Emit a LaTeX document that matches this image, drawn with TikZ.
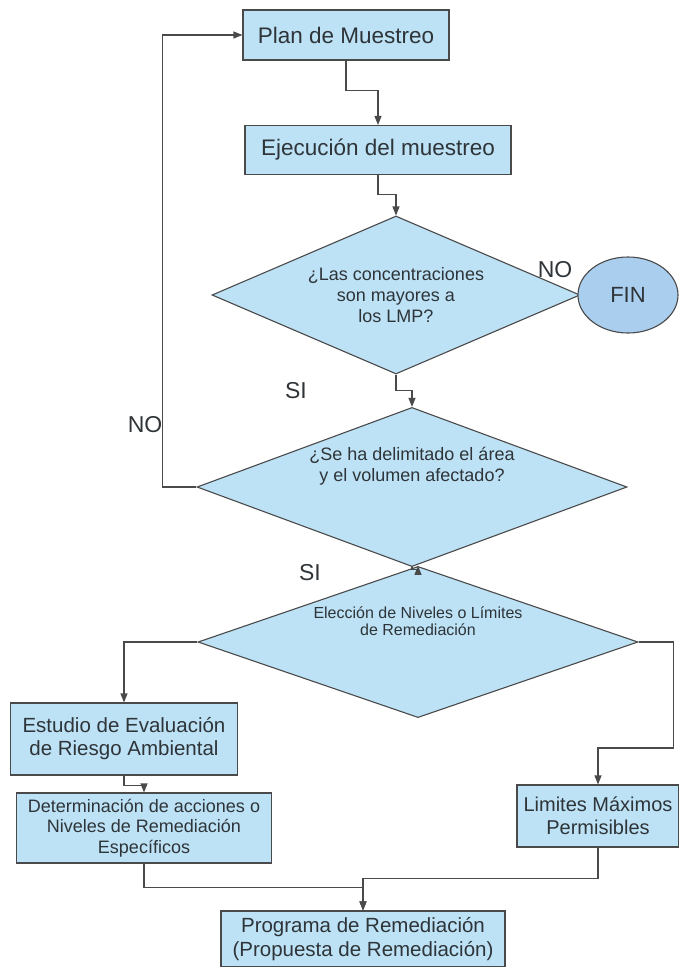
\documentclass[tikz,border=0pt]{standalone}
\usepackage{fontspec}
\setmainfont{Liberation Sans}
\usetikzlibrary{arrows.meta, shapes.geometric}
\definecolor{boxblue}{HTML}{BDE2F6}
\definecolor{finblue}{HTML}{AACFEE}
\definecolor{linegray}{HTML}{4A4A4A}
\definecolor{textgray}{HTML}{2E3438}
\tikzset{
  block/.style = {rectangle, draw=linegray, fill=boxblue, line width=1.1pt, align=center, inner sep=0pt, text=textgray},
  decision/.style = {diamond, aspect=2.6, draw=linegray, fill=boxblue, line width=1.1pt, align=center, inner sep=0pt, text=textgray},
  endnode/.style = {ellipse, draw=linegray, fill=finblue, line width=1.1pt, inner sep=0pt, text=textgray},
  answer/.style = {text=textgray, font=\fontsize{23}{26}\selectfont},
  arrow/.style = {draw=linegray, line width=1.1pt, -{Triangle[length=9pt, width=7pt]}},
}

\begin{document}
\begin{tikzpicture}[x=1pt, y=-1pt]
  \useasboundingbox (0,0) rectangle (679,967);

  \node (plan) [block, minimum width=206pt, minimum height=50pt, font=\fontsize{22.5}{26}\selectfont] at (346,35) {Plan de Muestreo};
  \node (ejec) [block, minimum width=266pt, minimum height=49pt, font=\fontsize{22.5}{26}\selectfont] at (378,150) {Ejecución del muestreo};
  \node (dec1) [decision, minimum width=368pt, minimum height=158pt, font=\fontsize{18}{21}\selectfont] at (396,295) {¿Las concentraciones\\son  mayores a\\los LMP?};
  \node (fin) [endnode, minimum width=100pt, minimum height=76pt, font=\fontsize{22}{24}\selectfont] at (628,295) {FIN};
  \node (dec2) [decision, minimum width=430pt, minimum height=145pt, text depth=46pt, font=\fontsize{18}{21}\selectfont] at (412,487) {¿Se ha delimitado el área\\y el volumen afectado?};
  \node (dec3) [decision, minimum width=440pt, minimum height=139pt, text depth=42pt, font=\fontsize{16}{17}\selectfont] at (418,642) {Elección de Niveles o Límites\\de Remediación};
  \node (estudio) [block, minimum width=227pt, minimum height=72pt, font=\fontsize{20.5}{23}\selectfont] at (124,739) {Estudio de Evaluación\\de Riesgo Ambiental};
  \node (determ) [block, minimum width=255pt, minimum height=70pt, font=\fontsize{18}{20.5}\selectfont] at (144,828) {Determinación de acciones o\\Niveles de Remediación\\Específicos};
  \node (limites) [block, minimum width=162pt, minimum height=62pt, font=\fontsize{20}{23}\selectfont] at (598,816) {Limites Máximos\\Permisibles};
  \node (programa) [block, minimum width=284pt, minimum height=56pt, font=\fontsize{20.5}{24}\selectfont] at (363,939) {Programa de Remediación\\(Propuesta de Remediación)};

  \node (no1) [answer] at (555,270) {NO};
  \node (si1) [answer] at (296,391) {SI};
  \node (no2) [answer] at (145,425) {NO};
  \node (si2) [answer] at (310,573) {SI};

  \draw [arrow] (plan.south) -- ++(0,30) -| (ejec.north);
  \draw [arrow] (ejec.south) -- ++(0,19) -| (dec1.north);
  \draw [arrow] (dec1.south) -- ++(0,16) -| (dec2.north);
  \draw [arrow] (dec2.west) -- ++(-34,0) |- (plan.west);
  \draw [arrow] (dec2.south) -- ++(0,2) -| (dec3.north);
  \draw [arrow] (dec3.west) -| (estudio.north);
  \draw [arrow] (dec3.east) -- ++(35,0) -- ++(0,106) -| (limites.north);
  \draw [arrow] (estudio.south) -- ++(0,10) -| (determ.north);
  \draw [arrow] (determ.south) -- ++(0,24) -| (programa.north);
  \draw [arrow] (limites.south) -- ++(0,31) -| (programa.north);

\end{tikzpicture}
\end{document}
